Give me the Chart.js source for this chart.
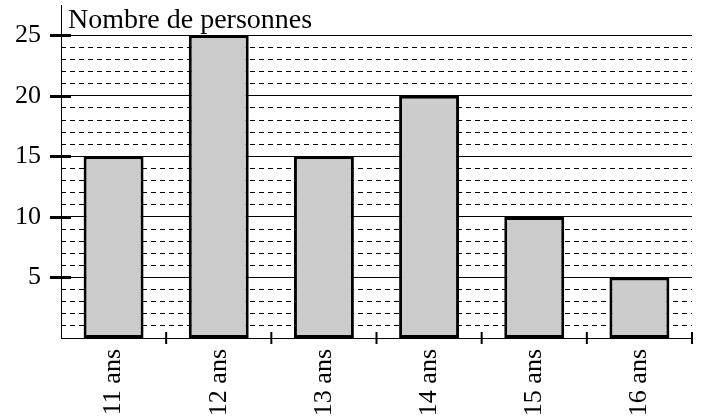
<!DOCTYPE html>
<html>
<head>
<meta charset="utf-8">
<script src="https://cdn.jsdelivr.net/npm/chart.js@4/dist/chart.umd.min.js"></script>
<style>
  html, body { margin: 0; padding: 0; background: #fff; }
  #wrap { width: 705px; height: 419px; }
</style>
</head>
<body>
<div id="wrap"><canvas id="chart"></canvas></div>
<script>
// Data
const categories = ['11 ans', '12 ans', '13 ans', '14 ans', '15 ans', '16 ans'];
const personnes = [15, 25, 15, 20, 10, 5];
const yMajorTicks = [5, 10, 15, 20, 25];
const yMinorTicks = [1, 2, 3, 4, 6, 7, 8, 9, 11, 12, 13, 14, 16, 17, 18, 19, 21, 22, 23, 24];
const yTitle = 'Nombre de personnes';

const FONT = '"Liberation Serif", "Times New Roman", serif';

// Thick tick marks crossing the axes + axis title
const axisMarks = {
  id: 'axisMarks',
  afterDatasetsDraw(chart) {
    const { ctx, chartArea, scales } = chart;
    ctx.save();
    ctx.strokeStyle = '#000';

    // y marks (multiples of 5)
    ctx.lineWidth = 3;
    yMajorTicks.forEach(v => {
      const y = Math.round(scales.y.getPixelForValue(v)) + 0.5;
      ctx.beginPath();
      ctx.moveTo(chartArea.left - 11, y);
      ctx.lineTo(chartArea.left + 10, y);
      ctx.stroke();
    });

    // x marks between categories
    ctx.lineWidth = 2;
    for (let i = 1; i <= categories.length; i++) {
      const x = i < categories.length
        ? (scales.x.getPixelForValue(i - 1) + scales.x.getPixelForValue(i)) / 2
        : chartArea.right;
      ctx.beginPath();
      ctx.moveTo(x, chartArea.bottom - 6);
      ctx.lineTo(x, chartArea.bottom + 6);
      ctx.stroke();
    }

    // axis title
    ctx.fillStyle = '#000';
    ctx.font = '28px ' + FONT;
    ctx.textBaseline = 'alphabetic';
    ctx.textAlign = 'left';
    ctx.fillText(yTitle, chartArea.left + 7, 28);
    ctx.restore();
  }
};

const ctx = document.getElementById('chart').getContext('2d');
new Chart(ctx, {
  type: 'bar',
  data: {
    labels: categories,
    datasets: [{
      data: personnes,
      backgroundColor: '#cccccc',
      borderColor: '#000',
      borderWidth: 3,
      borderSkipped: false,
      categoryPercentage: 1,
      barPercentage: 0.57
    }]
  },
  options: {
    responsive: true,
    maintainAspectRatio: false,
    animation: false,
    layout: { autoPadding: false, padding: { top: 5, right: 13, left: 0, bottom: 0 } },
    plugins: {
      legend: { display: false },
      tooltip: { enabled: false }
    },
    scales: {
      x: {
        offset: true,
        grid: { display: false },
        border: { display: true, color: '#000', width: 1 },
        ticks: {
          color: '#000',
          font: { family: FONT, size: 26 },
          minRotation: 90,
          maxRotation: 90,
          padding: 3
        },
        afterFit(scale) {
          scale.height = 81;
          scale.paddingLeft = 0;
          scale.paddingRight = 0;
        }
      },
      y: {
        position: 'left',
        min: 0,
        max: 27.5,
        afterBuildTicks(scale) {
          scale.ticks = yMajorTicks.map(v => ({ value: v }));
        },
        grid: { color: '#000', lineWidth: 1, drawTicks: false },
        border: { display: true, color: '#000', width: 1 },
        ticks: {
          color: '#000',
          font: { family: FONT, size: 26 },
          padding: 20
        },
        afterFit(scale) {
          scale.width = 61;
          scale.paddingTop = 0;
          scale.paddingBottom = 0;
        }
      },
      yMinor: {
        position: 'left',
        min: 0,
        max: 27.5,
        afterBuildTicks(scale) {
          scale.ticks = yMinorTicks.map(v => ({ value: v }));
        },
        grid: { color: '#000', lineWidth: 1, drawTicks: false },
        border: { display: false, dash: [5, 4] },
        ticks: { display: false },
        afterFit(scale) {
          scale.width = 0;
          scale.paddingTop = 0;
          scale.paddingBottom = 0;
        }
      }
    }
  },
  plugins: [axisMarks]
});
</script>
</body>
</html>
